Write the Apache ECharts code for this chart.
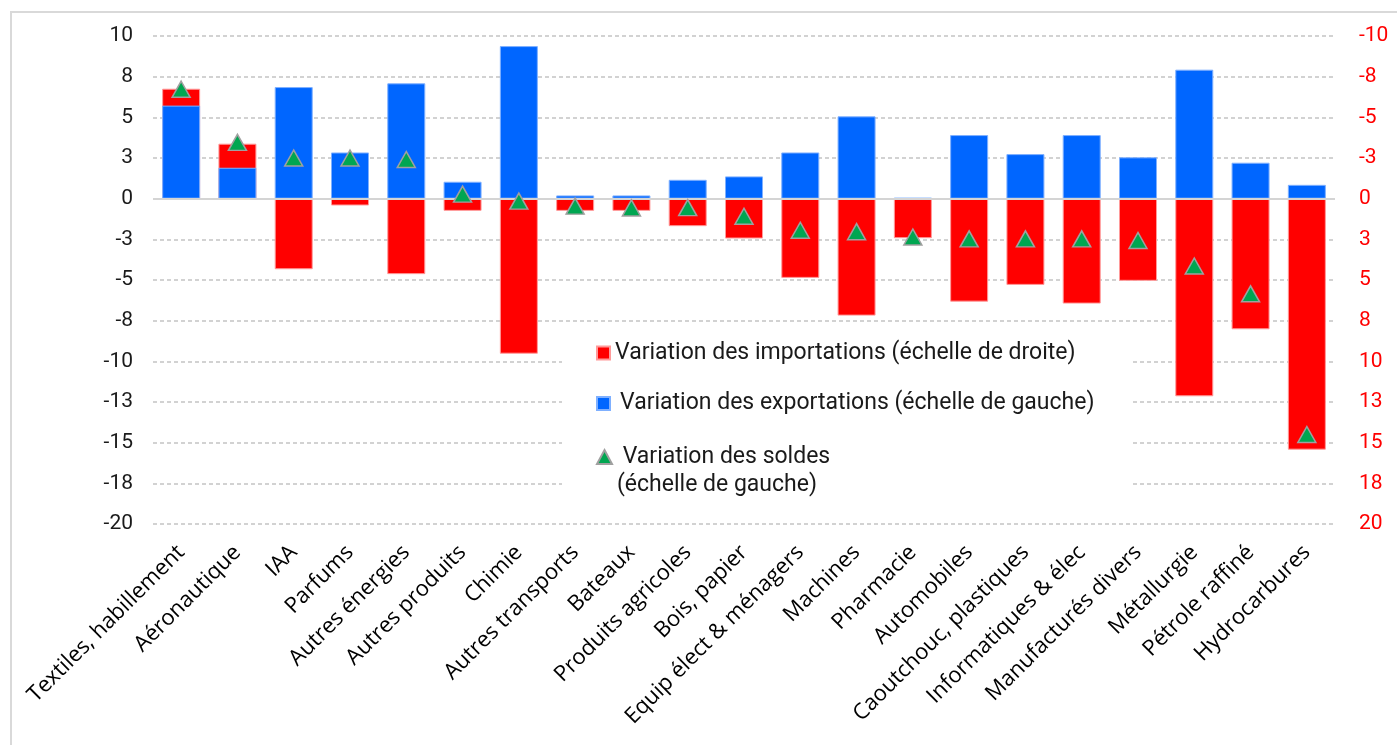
<!DOCTYPE html>
<html>
<head>
<meta charset="utf-8">
<script src="https://cdn.jsdelivr.net/npm/echarts@6/dist/echarts.min.js"></script>
<style>
  html, body { margin: 0; padding: 0; background: #fff; }
  #chart { width: 1397px; height: 745px; }
</style>
</head>
<body>
<div id="chart"></div>
<script>
// categories (secteurs)
var categories = ['Textiles, habillement', 'Aéronautique', 'IAA', 'Parfums', 'Autres énergies',
  'Autres produits', 'Chimie', 'Autres transports', 'Bateaux', 'Produits agricoles', 'Bois, papier',
  'Equip élect & ménagers', 'Machines', 'Pharmacie', 'Automobiles', 'Caoutchouc, plastiques',
  'Informatiques & élec', 'Manufacturés divers', 'Métallurgie', 'Pétrole raffiné', 'Hydrocarbures']

// variation des exportations (échelle de gauche)
var exportations = [5.72, 1.9, 6.86, 2.84, 7.09, 1.04, 9.38, 0.2, 0.2, 1.16, 1.37,
  2.84, 5.06, 0.05, 3.91, 2.74, 3.91, 2.54, 7.93, 2.21, 0.85]

// variation des importations (échelle de droite, inversée)
var importations = [-6.76, -3.38, 4.34, 0.42, 4.64, 0.75, 9.53, 0.75, 0.75, 1.69, 2.45,
  4.87, 7.19, 2.43, 6.33, 5.3, 6.45, 5.05, 12.15, 8.03, 15.43]

// variation des soldes (échelle de gauche)
var soldes = [6.73, 3.46, 2.5, 2.5, 2.41, 0.28, -0.15, -0.46, -0.57, -0.55, -1.08,
  -1.94, -2.03, -2.36, -2.47, -2.47, -2.47, -2.57, -4.14, -5.85, -14.5]

// tick labels (pas de 2,5 arrondi)
var leftTickLabels = ['-20', '-18', '-15', '-13', '-10', '-8', '-5', '-3', '0', '3', '5', '8', '10']
var rightTickLabels = ['-10', '-8', '-5', '-3', '0', '3', '5', '8', '10', '13', '15', '18', '20']

var chart = echarts.init(document.getElementById('chart'))

chart.setOption({
  backgroundColor: '#fff',
  animation: false,
  graphic: [
    { // cadre
      type: 'rect',
      silent: true,
      z: 0,
      shape: { x: 11, y: 12, width: 1400, height: 740 },
      style: { fill: 'none', stroke: '#d9d9d9', lineWidth: 2 }
    },
    { // fond blanc de la légende
      type: 'rect',
      silent: true,
      z: 1,
      shape: { x: 562, y: 330, width: 570, height: 170 },
      style: { fill: '#fff' }
    }
  ],
  grid: {
    left: 153,
    right: 62,
    top: 36,
    bottom: 221
  },
  legend: [
    {
      orient: 'vertical',
      left: 596,
      top: 340,
      padding: 0,
      itemGap: 24.5,
      itemWidth: 13,
      itemHeight: 13,
      textStyle: { fontFamily: 'Roboto', fontSize: 23, color: '#1a1a1a', lineHeight: 26 },
      data: [
        { name: 'Variation des importations (échelle de droite)', icon: 'rect' },
        { name: 'Variation des exportations (échelle de gauche)', icon: 'rect', textStyle: { padding: [0, 0, 0, 5] } }
      ]
    },
    {
      orient: 'vertical',
      left: 596,
      top: 415,
      padding: 0,
      itemWidth: 15,
      itemHeight: 14,
      formatter: function(name) {
        // ligne vide en tête pour aligner la 1re ligne sur le symbole
        return '\n ' + name
      },
      textStyle: { fontFamily: 'Roboto', fontSize: 23, color: '#1a1a1a', lineHeight: 28 },
      data: [
        { name: 'Variation des soldes\n(échelle de gauche)', icon: 'triangle' }
      ]
    }
  ],
  xAxis: {
    type: 'category',
    data: categories,
    axisLine: { show: false, onZero: false },
    axisTick: { show: false },
    splitLine: { show: false },
    axisLabel: {
      interval: 0,
      rotate: 45,
      margin: 25,
      padding: [27, 0, 0, 0],
      fontFamily: 'Open Sans',
      fontSize: 22,
      color: '#000'
    }
  },
  yAxis: [
    {
      type: 'value',
      min: -20,
      max: 10,
      interval: 2.5,
      axisLine: { show: false },
      axisTick: { show: false },
      axisLabel: {
        margin: 20,
        fontFamily: 'Roboto',
        fontSize: 21,
        color: '#1a1a1a',
        formatter: function(v) {
          return leftTickLabels[Math.round((v + 20) / 2.5)]
        }
      },
      splitLine: {
        lineStyle: { color: '#c4c4c4', width: 1.5, type: [4, 3] }
      }
    },
    {
      type: 'value',
      min: -10,
      max: 20,
      interval: 2.5,
      inverse: true,
      axisLine: { show: false },
      axisTick: { show: false },
      splitLine: { show: false },
      axisLabel: {
        margin: 24,
        fontFamily: 'Roboto',
        fontSize: 21,
        color: '#ff0000',
        formatter: function(v) {
          return rightTickLabels[Math.round((v + 10) / 2.5)]
        }
      }
    }
  ],
  series: [
    {
      name: 'Variation des importations (échelle de droite)',
      type: 'bar',
      yAxisIndex: 1,
      barWidth: 38,
      barGap: '-100%',
      itemStyle: { color: '#ff0000', borderColor: '#ff9a9a', borderWidth: 1 },
      data: importations
    },
    {
      name: 'Variation des exportations (échelle de gauche)',
      type: 'bar',
      yAxisIndex: 0,
      barWidth: 38,
      barGap: '-100%',
      itemStyle: { color: '#0066ff', borderColor: '#7fb0ff', borderWidth: 1 },
      markLine: {
        silent: true,
        symbol: 'none',
        label: { show: false },
        lineStyle: { color: '#d4d4d4', type: 'solid', width: 2 },
        data: [{ yAxis: 0 }]
      },
      data: exportations
    },
    {
      name: 'Variation des soldes\n(échelle de gauche)',
      type: 'scatter',
      yAxisIndex: 0,
      symbol: 'triangle',
      symbolSize: [18, 16],
      z: 5,
      itemStyle: { color: '#00a651', borderColor: '#a0a0a0', borderWidth: 1.5, opacity: 1 },
      data: soldes
    }
  ]
})
</script>
</body>
</html>
